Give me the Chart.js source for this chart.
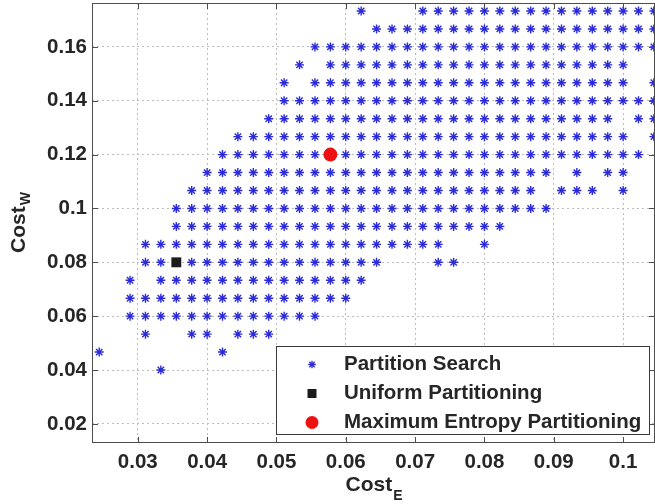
<!DOCTYPE html>
<html>
<head>
<meta charset="utf-8">
<script src="https://cdn.jsdelivr.net/npm/chart.js@4.4.1/dist/chart.umd.min.js"></script>
<style>
  html, body { margin: 0; padding: 0; background: #fff; }
  canvas { display: block; }
</style>
</head>
<body>
<canvas id="costPlot" width="655" height="504"></canvas>
<script>
// Cost_E value of each grid column
const costE = [
  0.02444, 0.02667, 0.02889, 0.03111, 0.03333, 0.03556, 0.03778, 0.04, 0.04222, 0.04444,
  0.04667, 0.04889, 0.05111, 0.05333, 0.05556, 0.05778, 0.06, 0.06222, 0.06444, 0.06667,
  0.06889, 0.07111, 0.07333, 0.07556, 0.07778, 0.08, 0.08222, 0.08444, 0.08667, 0.08889,
  0.09111, 0.09333, 0.09556, 0.09778, 0.1, 0.10222, 0.10444
];

// Cost_W value of each grid row, top to bottom
const costW = [
  0.17333, 0.16667, 0.16, 0.15333, 0.14667, 0.14, 0.13333, 0.12667, 0.12, 0.11333,
  0.10667, 0.1, 0.09333, 0.08667, 0.08, 0.07333, 0.06667, 0.06, 0.05333, 0.04667, 0.04
];

// partitions found by the search: '*' = evaluated, one row per costW entry
// (spaces every 10 columns only to keep the columns countable)
const searchGrid = [
  ".......... .......*.. .********* *******",
  ".......... ........** ********** *******",
  ".......... ....****** ********** *******",
  ".......... ...*.***** ********** *****..",
  ".......... ..*.****** ********** *****.*",
  ".......... ..******** ********** *******",
  ".......... .********* ********** ****.**",
  ".........* ********** ********** *****.*",
  "........** *****.**** ********** ******.",
  ".......*** ********** ********** .*.**..",
  "......**** ********** *********. ***.*..",
  ".....***** ********** ********** .......",
  ".....***** ********** *******... .......",
  "...******* ********** ***..*.... .......",
  "...**.**** *********. ..**...... .......",
  "..*.****** ********.. .......... .......",
  "..******** *******... .......... .......",
  "..******** *****..... .......... .......",
  "...*..**.* **........ .......... .......",
  "*.......*. .......... .......... .......",
  "....*..... .......... .......... ......."
];

const uniformPoint = [{ x: 0.03556, y: 0.08 }];
const maxEntropyPoint = [{ x: 0.05778, y: 0.12 }];

const xTicks = [0.03, 0.04, 0.05, 0.06, 0.07, 0.08, 0.09, 0.1];
const yTicks = [0.02, 0.04, 0.06, 0.08, 0.1, 0.12, 0.14, 0.16];

const searchPoints = [];
searchGrid.forEach((row, r) => {
  row.replace(/ /g, '').split('').forEach((c, i) => {
    if (c === '*') searchPoints.push({ x: costE[i], y: costW[r] });
  });
});

const FONT = '"Liberation Sans", Arial, Helvetica, sans-serif';
const INK = '#262626';
const STAR = '#2b2bd8';

const fmt = (v) => String(parseFloat(Number(v).toFixed(3)));

function drawStar(ctx, x, y, r) {
  const d = r * Math.SQRT1_2;
  ctx.beginPath();
  ctx.moveTo(x - r, y); ctx.lineTo(x + r, y);
  ctx.moveTo(x, y - r); ctx.lineTo(x, y + r);
  ctx.moveTo(x - d, y - d); ctx.lineTo(x + d, y + d);
  ctx.moveTo(x - d, y + d); ctx.lineTo(x + d, y - d);
  ctx.stroke();
}

// axes box, inward ticks, legend and the subscripted axis titles
const decorations = {
  id: 'decorations',
  afterDatasetsDraw(chart) {
    const { ctx, chartArea: a, scales } = chart;
    ctx.save();
    ctx.strokeStyle = '#4d4d4d';
    ctx.lineWidth = 1;
    ctx.strokeRect(a.left + 0.5, a.top + 0.5, a.width - 1, a.height - 1);
    ctx.beginPath();
    xTicks.forEach((v) => {
      const px = Math.round(scales.x.getPixelForValue(v)) + 0.5;
      ctx.moveTo(px, a.bottom); ctx.lineTo(px, a.bottom - 6);
      ctx.moveTo(px, a.top); ctx.lineTo(px, a.top + 6);
    });
    yTicks.forEach((v) => {
      const py = Math.round(scales.y.getPixelForValue(v)) + 0.5;
      ctx.moveTo(a.left, py); ctx.lineTo(a.left + 6, py);
      ctx.moveTo(a.right, py); ctx.lineTo(a.right - 6, py);
    });
    ctx.stroke();

    // legend in the lower right corner
    const box = { x: 276.5, y: 346.5, w: 373, h: 88 };
    ctx.fillStyle = '#fff';
    ctx.fillRect(box.x, box.y, box.w, box.h);
    ctx.strokeStyle = '#3a3a3a';
    ctx.strokeRect(box.x, box.y, box.w, box.h);

    const mx = 312, tx = 344;
    const rows = [364.5, 393.5, 422.5];
    const ds = chart.data.datasets;

    ctx.strokeStyle = STAR;
    ctx.lineWidth = 1.3;
    drawStar(ctx, mx, rows[0], 3.8);

    ctx.fillStyle = ds[1].backgroundColor;
    ctx.fillRect(mx - 4.5, rows[1] - 4.5, 9, 9);

    ctx.fillStyle = ds[2].backgroundColor;
    ctx.beginPath();
    ctx.arc(mx, rows[2], 6.5, 0, Math.PI * 2);
    ctx.fill();

    ctx.fillStyle = INK;
    ctx.font = 'bold 20.5px ' + FONT;
    ctx.textBaseline = 'middle';
    ctx.textAlign = 'left';
    ds.forEach((d, i) => ctx.fillText(d.label, tx, rows[i]));
    ctx.restore();
  },
  afterDraw(chart) {
    const { ctx, chartArea: a } = chart;
    ctx.save();
    ctx.fillStyle = INK;
    ctx.textBaseline = 'alphabetic';
    ctx.textAlign = 'left';

    const main = 'bold 21px ' + FONT;
    const sub = 'bold 14px ' + FONT;

    // Cost_E below the x axis
    ctx.font = main;
    const wMain = ctx.measureText('Cost').width;
    ctx.font = sub;
    const wE = ctx.measureText('E').width;
    let x0 = (a.left + a.right) / 2 - (wMain + wE) / 2;
    ctx.font = main;
    ctx.fillText('Cost', x0, 491);
    ctx.font = sub;
    ctx.fillText('E', x0 + wMain + 1, 500);

    // Cost_W beside the y axis
    ctx.translate(25, (a.top + a.bottom) / 2);
    ctx.rotate(-Math.PI / 2);
    ctx.font = sub;
    const wW = ctx.measureText('W').width;
    x0 = -(wMain + wW) / 2;
    ctx.font = main;
    ctx.fillText('Cost', x0, 0);
    ctx.font = sub;
    ctx.fillText('W', x0 + wMain + 1, 5);
    ctx.restore();
  }
};

const tickFont = { family: FONT, size: 20.5, weight: 'bold' };

new Chart(document.getElementById('costPlot'), {
  type: 'scatter',
  data: {
    datasets: [
      {
        label: 'Partition Search',
        data: searchPoints,
        pointStyle: 'star',
        pointRadius: 4.5,
        borderColor: STAR,
        backgroundColor: STAR,
        borderWidth: 1.4,
        order: 3
      },
      {
        label: 'Uniform Partitioning',
        data: uniformPoint,
        pointStyle: 'rect',
        pointRadius: 7,
        backgroundColor: '#1c1c1c',
        borderColor: '#1c1c1c',
        borderWidth: 0,
        order: 2
      },
      {
        label: 'Maximum Entropy Partitioning',
        data: maxEntropyPoint,
        pointStyle: 'circle',
        pointRadius: 7,
        backgroundColor: '#ee1111',
        borderColor: '#ee1111',
        borderWidth: 0,
        order: 1
      }
    ]
  },
  options: {
    responsive: false,
    animation: false,
    layout: { autoPadding: false, padding: { top: 3, right: 0, bottom: 0, left: 0 } },
    plugins: {
      legend: { display: false },
      tooltip: { enabled: false }
    },
    scales: {
      x: {
        type: 'linear',
        min: 0.0234,
        max: 0.1046,
        afterBuildTicks: (s) => { s.ticks = xTicks.map((v) => ({ value: v })); },
        afterFit: (s) => { s.height = 61; s.paddingLeft = 0; s.paddingRight = 0; },
        grid: { color: '#bcbcbc', lineWidth: 1, drawTicks: false },
        border: { display: false, dash: [2, 3] },
        ticks: { font: tickFont, color: INK, padding: 7, maxRotation: 0, callback: fmt }
      },
      y: {
        type: 'linear',
        min: 0.0129,
        max: 0.1763,
        afterBuildTicks: (s) => { s.ticks = yTicks.map((v) => ({ value: v })); },
        afterFit: (s) => { s.width = 92; s.paddingTop = 0; s.paddingBottom = 0; },
        grid: { color: '#bcbcbc', lineWidth: 1, drawTicks: false },
        border: { display: false, dash: [2, 3] },
        ticks: { font: tickFont, color: INK, padding: 5, callback: fmt }
      }
    }
  },
  plugins: [decorations]
});
</script>
</body>
</html>
